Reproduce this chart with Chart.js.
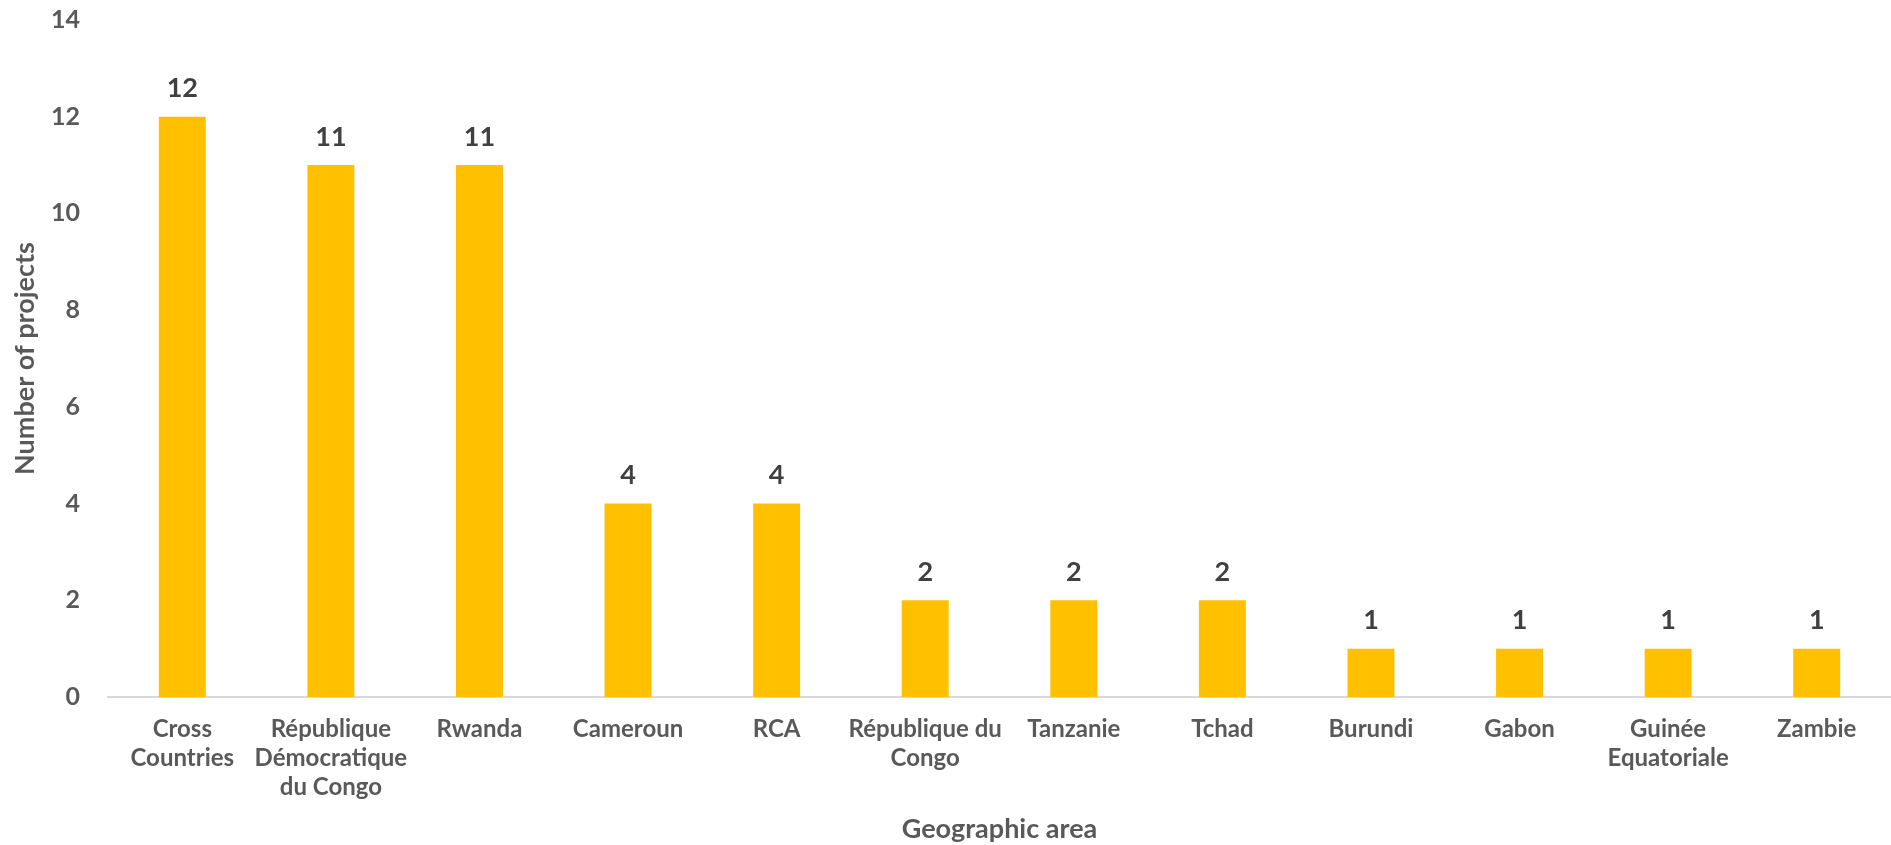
<!DOCTYPE html>
<html>
<head>
<meta charset="utf-8">
<script src="https://cdn.jsdelivr.net/npm/chart.js@4.4.0/dist/chart.umd.min.js"></script>
<style>
  body{margin:0;background:#fff;}
  #wrap{width:1891px;height:845px;position:relative;}
</style>
</head>
<body>
<div id="wrap"><canvas id="myChart"></canvas></div>
<script>
// data
const areas=[
  ['Cross','Countries'],
  ['République','Démocratique','du Congo'],
  'Rwanda',
  'Cameroun',
  'RCA',
  ['République du','Congo'],
  'Tanzanie',
  'Tchad',
  'Burundi',
  'Gabon',
  ['Guinée','Equatoriale'],
  'Zambie'
];
const projects=[12,11,11,4,4,2,2,2,1,1,1,1];
const yTicks=[0,2,4,6,8,10,12,14];

const fontName="Lato, 'Open Sans', sans-serif";

// bar value labels (no datalabels plugin available offline)
const valueLabels={
  id:'valueLabels',
  afterDatasetsDraw(chart){
    const ctx=chart.ctx;
    const meta=chart.getDatasetMeta(0);
    ctx.save();
    ctx.font="bold 27px "+fontName;
    ctx.fillStyle='#404040';
    ctx.textAlign='center';
    ctx.textBaseline='middle';
    meta.data.forEach((bar,i)=>{
      ctx.fillText(String(projects[i]),bar.x,bar.y-28);
    });
    ctx.restore();
  }
};

const ctx=document.getElementById('myChart').getContext('2d');
let chart=new Chart(ctx,{
  type:'bar',
  data:{
    labels:areas,
    datasets:[{
      label:'projects',
      data:projects,
      backgroundColor:'#FFC000',
      borderWidth:0,
      categoryPercentage:1,
      barPercentage:0.316
    }]
  },
  options:{
    responsive:true,
    maintainAspectRatio:false,
    animation:false,
    layout:{padding:{top:20,left:0,right:0,bottom:0}},
    plugins:{legend:{display:false},tooltip:{enabled:false}},
    scales:{
      x:{
        grid:{display:false,drawTicks:false},
        border:{display:true,color:'#d9d9d9',width:2},
        ticks:{
          color:'#595959',
          font:{family:fontName,size:24,weight:'bold',lineHeight:1.2},
          padding:18,
          maxRotation:0,
          autoSkip:false
        },
        title:{
          display:true,
          text:'Geographic area',
          color:'#595959',
          font:{family:fontName,size:27,weight:'bold'},
          padding:{top:4,bottom:0}
        },
        afterFit(scale){ scale.height=148; }
      },
      y:{
        min:0,max:14,
        afterBuildTicks(scale){ scale.ticks=yTicks.map(v=>({value:v})); },
        grid:{display:false,drawTicks:false},
        border:{display:false},
        ticks:{
          color:'#595959',
          font:{family:fontName,size:25,weight:'bold'},
          padding:28
        },
        title:{
          display:true,
          text:'Number of projects',
          color:'#595959',
          font:{family:fontName,size:27,weight:'bold'},
          padding:{top:9,bottom:0}
        },
        afterFit(scale){
          scale.width=108;
          // tick padding otherwise pushes the plot top down
          scale.paddingTop=0;
          scale.paddingBottom=0;
        }
      }
    }
  },
  plugins:[valueLabels]
});
</script>
</body>
</html>
